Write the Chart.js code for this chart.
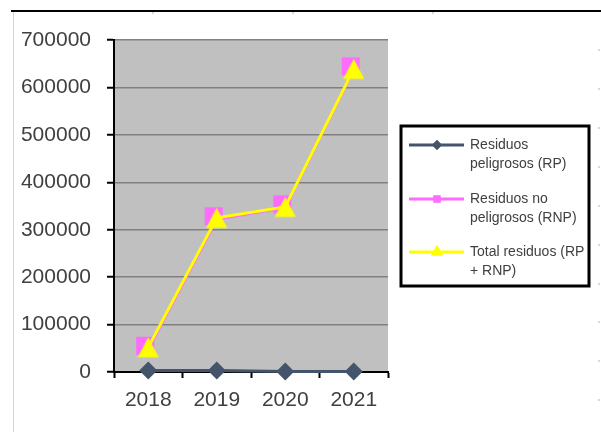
<!DOCTYPE html>
<html>
<head>
<meta charset="utf-8">
<script src="https://cdn.jsdelivr.net/npm/chart.js@4/dist/chart.umd.min.js"></script>
<style>
  html, body { margin: 0; padding: 0; background: #ffffff; }
  #wrap { width: 601px; height: 432px; position: relative; }
</style>
</head>
<body>
<div id="wrap"><canvas id="c" width="601" height="432"></canvas></div>
<script>
const categories = ['2018', '2019', '2020', '2021'];
const rpValues = [3000, 3000, 1000, 1000];
const rnpValues = [49000, 322000, 347000, 638000];
const totalValues = [52000, 325000, 348000, 639000];
const seriesLabels = ['Residuos peligrosos (RP)', 'Residuos no peligrosos (RNP)', 'Total residuos (RP + RNP)'];
const legendLines = [['Residuos', 'peligrosos (RP)'], ['Residuos no', 'peligrosos (RNP)'], ['Total residuos (RP', '+ RNP)']];
const yMin = 0, yMax = 700000, yStep = 100000;

const colRP = '#44546A', colRNP = '#FF6BFF', colTot = '#FFFF00';
const FONT = '"Liberation Sans", Arial, sans-serif';

// marker images (Excel-like placement)
function squareMarker(side, dx, dy, color) {
  const S = side + 2 * Math.max(Math.abs(dx), Math.abs(dy)) + 4;
  const c = document.createElement('canvas');
  c.width = S; c.height = S;
  const g = c.getContext('2d');
  g.fillStyle = color;
  g.fillRect(S / 2 - side / 2 + dx, S / 2 - side / 2 + dy, side, side);
  return c;
}
function triangleMarker(w, h, color) {
  const S = Math.max(w, h) + 4;
  const c = document.createElement('canvas');
  c.width = S; c.height = S;
  const g = c.getContext('2d');
  g.fillStyle = color;
  g.beginPath();
  g.moveTo(S / 2, S / 2 - h / 2);
  g.lineTo(S / 2 + w / 2, S / 2 + h / 2);
  g.lineTo(S / 2 - w / 2, S / 2 + h / 2);
  g.closePath();
  g.fill();
  return c;
}
const sqImg = squareMarker(18, -3, -3, colRNP);
const triImg = triangleMarker(21, 20, colTot);

const decorPlugin = {
  id: 'decor',
  beforeDraw(chart) {
    const ctx = chart.ctx, a = chart.chartArea;
    ctx.save();
    ctx.fillStyle = '#ffffff';
    ctx.fillRect(0, 0, chart.width, chart.height);
    ctx.fillStyle = '#d4d4d4';
    ctx.fillRect(13, 12, 1, 420);
    ctx.fillStyle = '#000000';
    ctx.fillRect(11, 10, 590, 2);
    ctx.fillStyle = '#d9d9d9';
    [152, 292, 432].forEach(x => ctx.fillRect(x, 12, 2, 2));
    [49, 88, 127, 166, 205, 244, 283, 321, 360, 399].forEach(y => ctx.fillRect(598, y, 2, 2));
    ctx.fillStyle = '#C0C0C0';
    ctx.fillRect(a.left, a.top, a.right - a.left, a.bottom - a.top);
    ctx.restore();
  },
  afterDraw(chart) {
    const ctx = chart.ctx;
    ctx.save();
    const bx = 401, by = 126, bw = 188, bh = 160;
    ctx.fillStyle = '#ffffff';
    ctx.fillRect(bx, by, bw, bh);
    ctx.strokeStyle = '#000000';
    ctx.lineWidth = 3;
    ctx.strokeRect(bx, by, bw, bh);
    const rows = [145, 199, 252];
    const styles = ['rectRot', 'rect', 'triangle'];
    const radii = [5, 5, 7];
    chart.data.datasets.forEach((ds, i) => {
      const y = rows[i];
      ctx.strokeStyle = ds.borderColor;
      ctx.lineWidth = 3;
      ctx.beginPath();
      ctx.moveTo(409, y);
      ctx.lineTo(464, y);
      ctx.stroke();
      ctx.fillStyle = ds.borderColor;
      ctx.beginPath();
      Chart.helpers.drawPoint(ctx, { pointStyle: styles[i], radius: radii[i], borderWidth: 0, rotation: 0 }, 437, y);
      ctx.fill();
      ctx.fillStyle = '#404040';
      ctx.font = '14px ' + FONT;
      ctx.textBaseline = 'middle';
      ctx.textAlign = 'left';
      legendLines[i].forEach((t, k) => ctx.fillText(t, 470, y + k * 19));
    });
    ctx.restore();
  }
};

new Chart(document.getElementById('c'), {
  type: 'line',
  data: {
    labels: categories,
    datasets: [
      {
        label: seriesLabels[0], data: rpValues, borderColor: colRP, backgroundColor: colRP,
        borderWidth: 3, pointStyle: 'rectRot', pointRadius: 9, pointBorderWidth: 0,
        pointBackgroundColor: colRP, tension: 0, clip: false, order: 2
      },
      {
        label: seriesLabels[1], data: rnpValues, borderColor: colRNP, backgroundColor: colRNP,
        borderWidth: 3, pointStyle: sqImg, pointRadius: 12, pointBorderWidth: 0,
        pointBackgroundColor: colRNP, tension: 0, clip: false, order: 1
      },
      {
        label: seriesLabels[2], data: totalValues, borderColor: colTot, backgroundColor: colTot,
        borderWidth: 3, pointStyle: triImg, pointRadius: 12, pointBorderWidth: 0,
        pointBackgroundColor: colTot, tension: 0, clip: false, order: 0
      }
    ]
  },
  options: {
    responsive: false,
    animation: false,
    events: [],
    layout: { padding: { left: 13, right: 213, top: 40, bottom: 0 } },
    plugins: { legend: { display: false }, tooltip: { enabled: false } },
    scales: {
      x: {
        offset: true,
        grid: { offset: true, drawOnChartArea: false, drawTicks: true, tickLength: 6, tickColor: '#000', tickWidth: 2 },
        border: { color: '#000', width: 2 },
        ticks: { color: '#404040', font: { family: FONT, size: 21 }, padding: 10, maxRotation: 0 },
        afterFit(s) { s.height = 60; }
      },
      y: {
        min: yMin, max: yMax,
        grid: { color: '#808080', lineWidth: 1.5, drawTicks: true, tickLength: 7, tickColor: '#000', tickWidth: 2 },
        border: { color: '#000', width: 2 },
        ticks: { stepSize: yStep, color: '#404040', font: { family: FONT, size: 21 }, padding: 16,
                 callback: v => String(v) },
        afterFit(s) { s.width = 101; }
      }
    }
  },
  plugins: [decorPlugin]
});
</script>
</body>
</html>
